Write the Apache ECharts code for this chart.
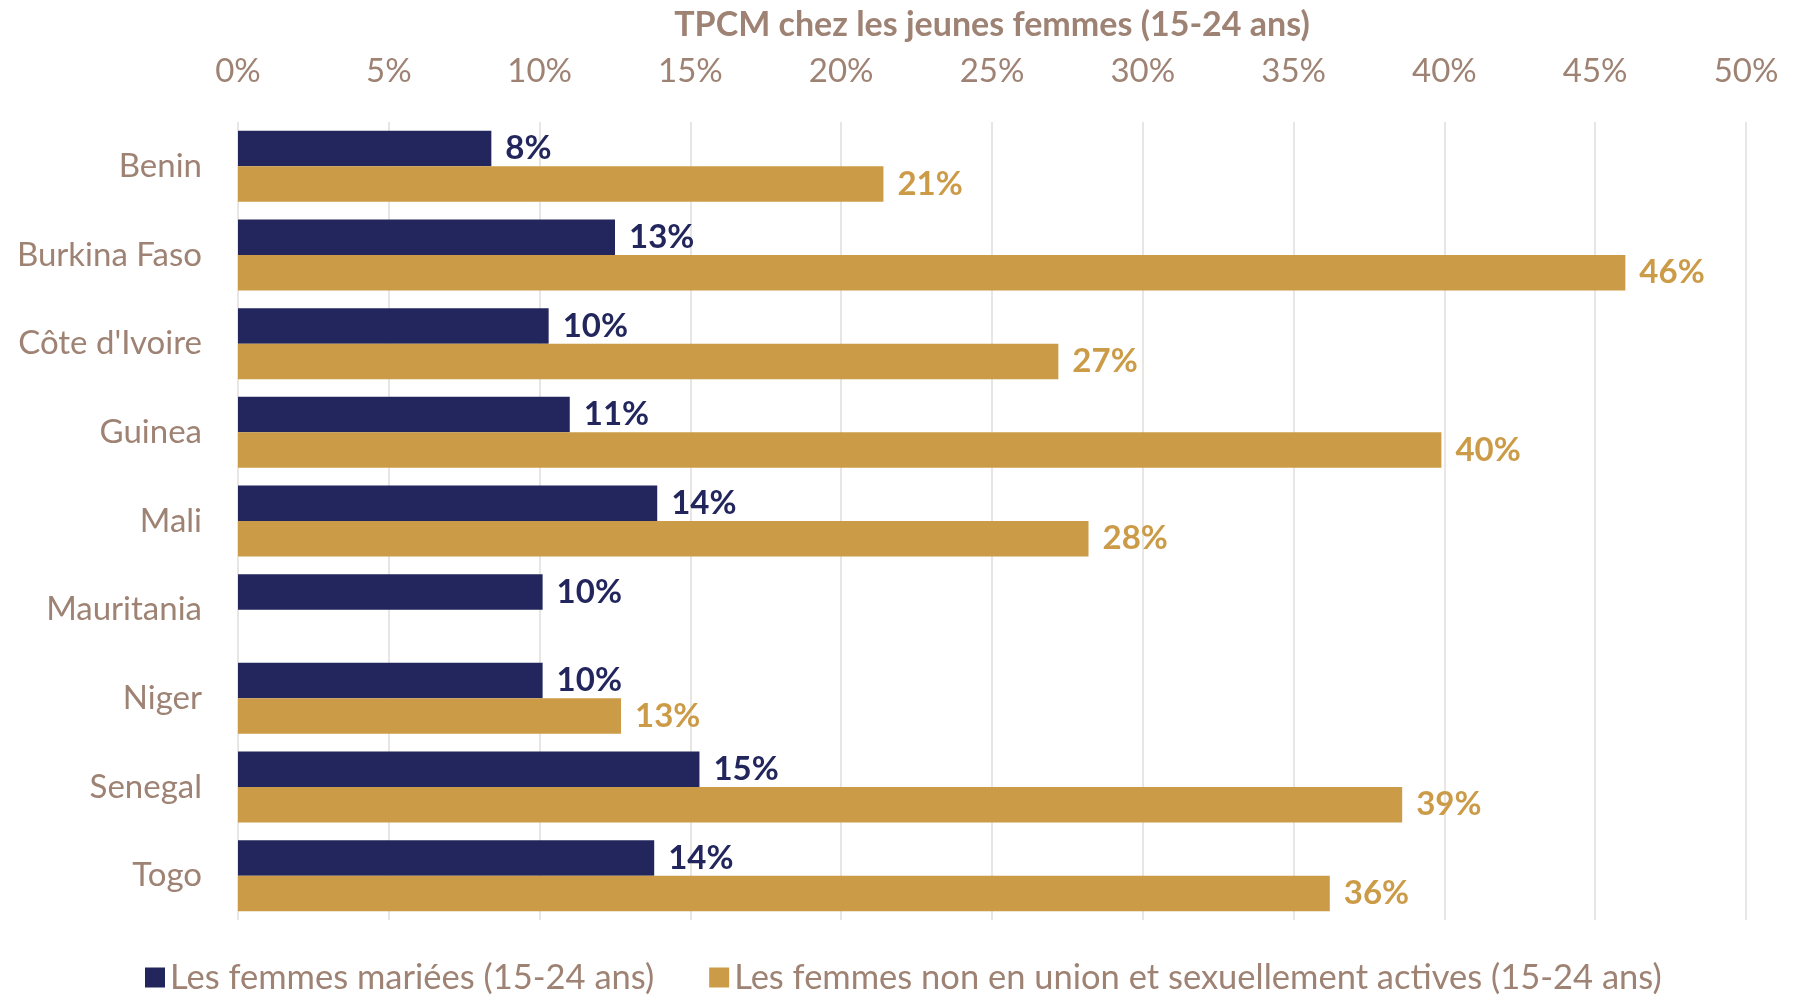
<!DOCTYPE html>
<html>
<head>
<meta charset="utf-8">
<script src="https://cdn.jsdelivr.net/npm/echarts@6/dist/echarts.min.js"></script>
<style>
html, body { margin: 0; padding: 0; background: #fff; }
#idChart { width: 1798px; height: 997px; }
</style>
</head>
<body>
<div id="idChart"></div>
<script>
var categories = ['Benin', 'Burkina Faso', "Côte d'Ivoire", 'Guinea', 'Mali', 'Mauritania', 'Niger', 'Senegal', 'Togo'];
var married = [8.4, 12.5, 10.3, 11.0, 13.9, 10.1, 10.1, 15.3, 13.8];   // Les femmes mariées
var unmarried = [21.4, 46.0, 27.2, 39.9, 28.2, null, 12.7, 38.6, 36.2]; // non en union, actives
var xTicks = [0, 5, 10, 15, 20, 25, 30, 35, 40, 45, 50];

var textColor = '#9e8273';
var font = 'Lato';

var myChart = echarts.init(document.getElementById('idChart'));

function pct(p) { return Math.round(p.value) + '%'; }

var Options = {
    color: ['#22265c', '#cc9b47'],
    textStyle: { fontFamily: font },
    animation: false,
    grid: {
        left: 238,
        right: 52,
        top: 122,
        bottom: 77,
        outerBoundsMode: 'none'
    },
    legend: {
        bottom: -3,
        left: 140,
        icon: 'rect',
        itemWidth: 20,
        itemHeight: 20,
        itemGap: 55,
        textStyle: { color: textColor, fontSize: 34.5, fontFamily: font },
        data: ['Les femmes mariées (15-24 ans)', 'Les femmes non en union et sexuellement actives (15-24 ans)']
    },
    xAxis: {
        type: 'value',
        position: 'top',
        min: xTicks[0],
        max: xTicks[xTicks.length - 1],
        interval: 5,
        name: 'TPCM chez les jeunes femmes (15-24 ans)',
        nameLocation: 'middle',
        nameGap: 80,
        nameTextStyle: { color: textColor, fontSize: 34, fontWeight: 'bold', fontFamily: font },
        axisLine: { show: false },
        axisTick: { show: false },
        axisLabel: {
            color: textColor,
            fontSize: 33,
            margin: 34,
            formatter: '{value}%'
        },
        splitLine: { lineStyle: { color: '#e2ddd9', width: 1.5 } }
    },
    yAxis: {
        type: 'category',
        inverse: true,
        data: categories,
        axisLine: { show: false },
        axisTick: { show: false },
        axisLabel: { color: textColor, fontSize: 33, margin: 36 }
    },
    series: [
        {
            name: 'Les femmes mariées (15-24 ans)',
            type: 'bar',
            barGap: '0%',
            barCategoryGap: '20%',
            data: married,
            label: {
                show: true,
                position: 'right',
                distance: 14,
                color: '#22265c',
                fontWeight: 'bold',
                fontSize: 33,
                formatter: pct
            }
        },
        {
            name: 'Les femmes non en union et sexuellement actives (15-24 ans)',
            type: 'bar',
            barGap: '0%',
            barCategoryGap: '20%',
            data: unmarried,
            label: {
                show: true,
                position: 'right',
                distance: 14,
                color: '#cc9b47',
                fontWeight: 'bold',
                fontSize: 33,
                formatter: pct
            }
        }
    ]
};

myChart.setOption(Options);
</script>
</body>
</html>
